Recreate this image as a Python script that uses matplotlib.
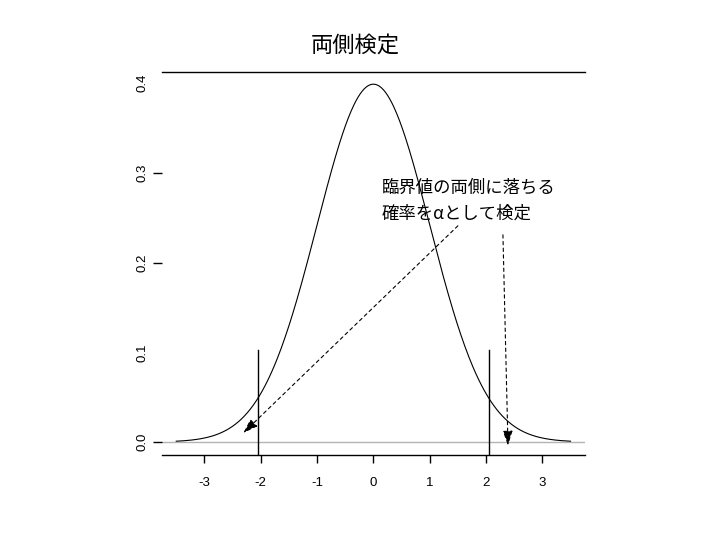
import numpy as np
import matplotlib
matplotlib.use("Agg")
import matplotlib.pyplot as plt

# ---- data ----
title = "両側検定"
note_lines = ["臨界値の両側に落ちる", "確率をαとして検定"]
mu, sigma = 0.0, 1.0
curve_range = (-3.5, 3.5)
critical_values = [-2.05, 2.05]
critical_top = 0.103
x_ticks = [-3, -2, -1, 0, 1, 2, 3]
y_ticks = [0.0, 0.1, 0.2, 0.3, 0.4]
y_tick_labels = ["0.0", "0.1", "0.2", "0.3", "0.4"]
arrow_starts = [(1.50, 0.241), (2.30, 0.231)]
arrow_ends = [(-2.31, 0.010), (2.39, -0.004)]

plt.rcParams['font.family'] = ['Liberation Sans', 'DejaVu Sans']
jp = ['Noto Sans CJK JP', 'DejaVu Sans']

fig = plt.figure(figsize=(7.2, 5.4), dpi=100)
ax = fig.add_axes([162/720, 1-455/540, (585-162)/720, (455-72)/540])

xs = np.linspace(curve_range[0], curve_range[1], 400)
ys = np.exp(-0.5*((xs-mu)/sigma)**2) / (sigma*np.sqrt(2*np.pi))

ax.set_xlim(-3.753, 3.757)
ax.set_ylim(-0.0145, 0.4125)

ax.axhline(0, color='#b4b4b4', lw=1.0, zorder=1)
ax.plot(xs, ys, color='black', lw=0.8, zorder=2)
for c in critical_values:
    ax.plot([c, c], [-0.0145, critical_top], color='black', lw=1.0, zorder=3)

for (x0, y0), (x1, y1) in zip(arrow_starts, arrow_ends):
    ax.annotate("", xy=(x1, y1), xytext=(x0, y0),
                arrowprops=dict(arrowstyle='-|>,head_length=0.9,head_width=0.3',
                                color='black', lw=0.8, linestyle=(0, (3, 3)),
                                shrinkA=0, shrinkB=0), zorder=4)

ax.text(0.155, 0.283, note_lines[0], family=jp, fontsize=12.5, ha='left', va='center')
ax.text(0.155, 0.255, note_lines[1], family=jp, fontsize=12.5, ha='left', va='center')

fig.text(355/720, 1-45/540, title, family=jp, fontsize=16, ha='center', va='center')

for s in ['left', 'right']:
    ax.spines[s].set_visible(False)
for s in ['top', 'bottom']:
    ax.spines[s].set_linewidth(1.0)

ax.set_xticks(x_ticks)
ax.set_xticklabels([str(v) for v in x_ticks])
ax.set_yticks(y_ticks)
ax.set_yticklabels(y_tick_labels, rotation=90, va='center')
ax.tick_params(axis='x', length=6, width=1.0, pad=10, labelsize=9.5, color='black')
ax.tick_params(axis='y', length=6.5, width=1.0, pad=3.5, labelsize=9.5, color='black')
yt = ax.yaxis.get_major_ticks()
yt[1].tick1line.set_visible(False)
yt[4].tick1line.set_visible(False)

fig.savefig("out.png", dpi=100)
